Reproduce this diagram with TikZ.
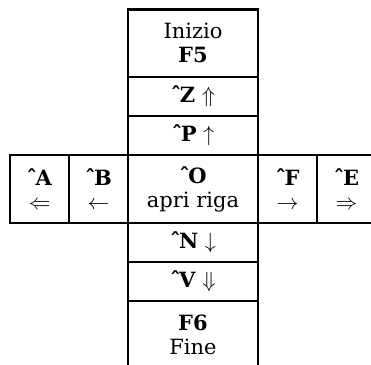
\documentclass[tikz,border=0pt]{standalone}
\usepackage{fontspec}
\setmainfont{DejaVu Serif}
\usetikzlibrary{positioning}

% control key, e.g. ^Z
\newcommand{\ctrlkey}[1]{\textbf{ˆ\kern-.07em#1}}

\begin{document}
\begin{tikzpicture}[
    key/.style={rectangle, draw, line width=1.3pt, inner sep=0pt, outer sep=0pt, align=center,
        font=\fontsize{10.5}{12}\selectfont},
    tall/.style={key, minimum width=65pt, minimum height=34pt},
    short/.style={key, minimum width=65pt, minimum height=19.5pt},
    side/.style={key, minimum width=29.5pt, minimum height=34pt}
]
    \clip (0,0) rectangle (185.5pt,-182.5pt);

    % Vertical column (up / down)
    \node[tall, minimum height=33.75pt, anchor=north west] (inizio) at (64pt,-4.75pt) {Inizio\\\textbf{F5}};
    \node[short, below=0pt of inizio] (zup) {\ctrlkey{Z} $\Uparrow$};
    \node[short, below=0pt of zup] (pup) {\ctrlkey{P} $\uparrow$};
    \node[tall, below=0pt of pup] (apri) {\ctrlkey{O}\\apri riga};
    \node[short, below=0pt of apri] (ndown) {\ctrlkey{N} $\downarrow$};
    \node[short, below=0pt of ndown] (vdown) {\ctrlkey{V} $\Downarrow$};
    \node[tall, below=0pt of vdown] (fine) {\textbf{F6}\\Fine};

    % Horizontal row (left / right)
    \node[side, left=0pt of apri] (bleft) {\ctrlkey{B}\\$\leftarrow$};
    \node[side, left=0pt of bleft] (aleft) {\ctrlkey{A}\\$\Leftarrow$};
    \node[side, right=0pt of apri] (fright) {\ctrlkey{F}\\$\rightarrow$};
    \node[side, right=0pt of fright] (eright) {\ctrlkey{E}\\$\Rightarrow$};
\end{tikzpicture}
\end{document}
